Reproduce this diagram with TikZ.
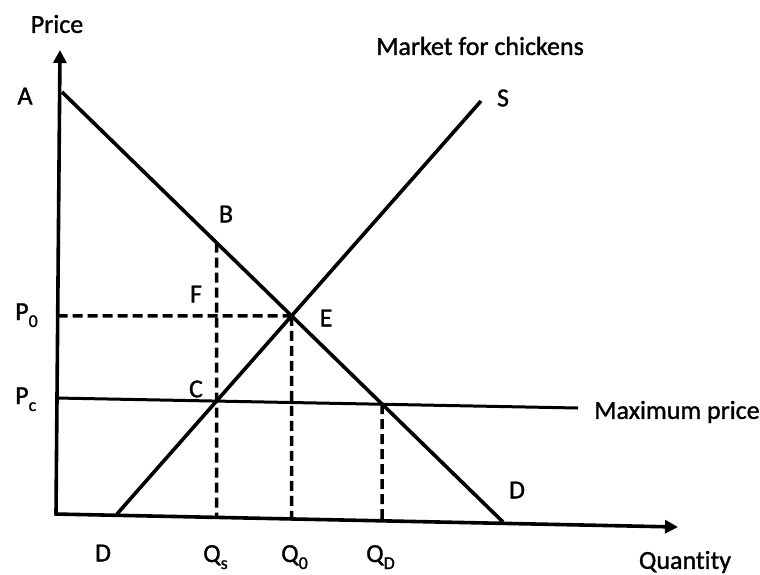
\documentclass[tikz,border=0pt]{standalone}
\usepackage{fontspec}
\setmainfont[Ligatures=NoCommon,FakeBold=1.2]{Carlito}
\usetikzlibrary{arrows.meta,calc}
\newcommand\lowsub[1]{\raisebox{-7pt}{\fontsize{18}{19}\selectfont #1}}
\begin{document}
\begin{tikzpicture}[x=1pt,y=-1pt,
  axisline/.style={line width=3.6pt,-{Triangle[length=13pt,width=13pt]}},
  curve/.style={line width=3.6pt},
  dashline/.style={line width=3.5pt,dash pattern=on 10pt off 5pt},
  lbl/.style={font=\fontsize{26}{30}\selectfont,inner sep=0pt}]
\useasboundingbox (0,0) rectangle (760,574);
% key points
\coordinate (O) at (56,514);
\coordinate (Ytop) at (60,50);
\coordinate (Xend) at (678,527);
\coordinate (Atop) at (62,92);
\coordinate (Dend) at (503,522);
\coordinate (Sfoot) at (117,514);
\coordinate (Stop) at (481,101);
\coordinate (Pcl) at (56,398);
\coordinate (Pcr) at (578,408);
\coordinate (E) at (intersection of Atop--Dend and Sfoot--Stop);
\coordinate (C) at (intersection of Sfoot--Stop and Pcl--Pcr);
\coordinate (G) at (intersection of Atop--Dend and Pcl--Pcr);
\coordinate (Cup) at ($(C)+(0,-300)$);
\coordinate (B) at (intersection of Atop--Dend and C--Cup);
\coordinate (Cdn) at ($(C)+(0,200)$);
\coordinate (Edn) at ($(E)+(0,300)$);
\coordinate (Gdn) at ($(G)+(0,200)$);
\coordinate (Ele) at ($(E)+(-400,0)$);
\coordinate (Qs) at (intersection of C--Cdn and O--Xend);
\coordinate (Qo) at (intersection of E--Edn and O--Xend);
\coordinate (Qd) at (intersection of G--Gdn and O--Xend);
\coordinate (Po) at (intersection of E--Ele and O--Ytop);
% dashed guides
\draw[dashline] (Po) -- (E);
\draw[dashline] (B) -- (Qs);
\draw[dashline] (E) -- (Qo);
\draw[dashline] (G) -- (Qd);
% maximum price line
\draw[line width=3pt] (Pcl) -- (Pcr);
% demand and supply
\draw[curve] (Atop) -- (Dend);
\draw[curve] (Sfoot) -- (Stop);
% axes
\draw[axisline] (O) -- (Ytop);
\draw[axisline] ($(O)+(-1.5,0)$) -- (Xend);
% labels
\node[lbl] (price) at (57,24) {Price};
\node[lbl] (lA) at (25,96) {A};
\node[lbl] (title) at (480,46) {Market for chickens};
\node[lbl] (lS) at (503,98) {S};
\node[lbl] (lB) at (226,214) {B};
\node[lbl] (lF) at (196,294) {F};
\node[lbl] (lE) at (326,318) {E};
\node[lbl] (lC) at (196,389) {C};
\node[lbl,anchor=base west] (lP0) at (15,320) {P\lowsub{0}};
\node[lbl,anchor=base west] (lPc) at (15,404) {P\lowsub{c}};
\node[lbl] (maxp) at (677,412) {Maximum price};
\node[lbl] (lD1) at (517,490) {D};
\node[lbl] (lD2) at (103,553) {D};
\node[lbl,anchor=base west] (lQs) at (203,562) {Q\lowsub{s}};
\node[lbl,anchor=base west] (lQ0) at (281,562) {Q\lowsub{0}};
\node[lbl,anchor=base west] (lQD) at (366,562) {Q\lowsub{D}};
\node[lbl] (quant) at (685,562) {Quantity};
\end{tikzpicture}
\end{document}
